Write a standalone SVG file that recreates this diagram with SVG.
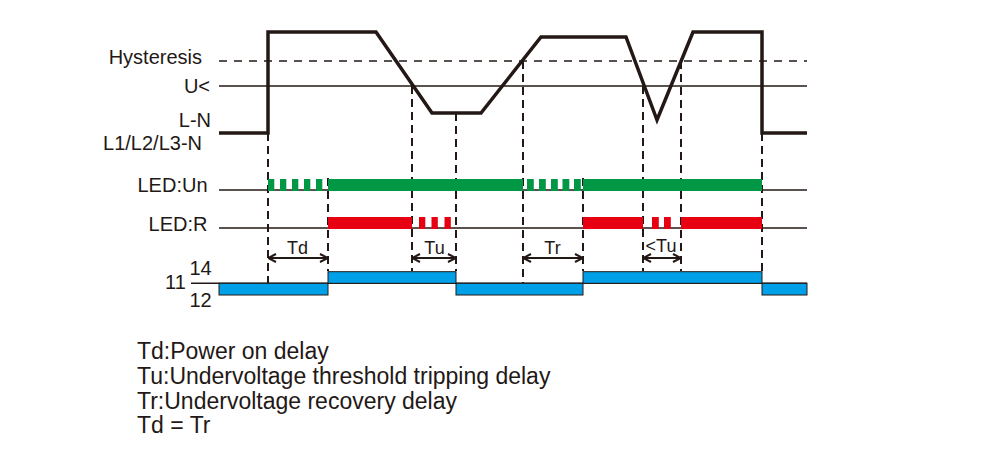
<svg xmlns="http://www.w3.org/2000/svg" width="1000" height="456" viewBox="0 0 1000 456">
<defs>
<style>
.t{font-family:"Liberation Sans",Arial,sans-serif;fill:#231815}
.lab{font-size:20px;text-anchor:end}
.num{font-size:20px}
.tm{font-size:18px;text-anchor:middle}
.leg{font-size:23px}
.ref{stroke:#231815;stroke-width:1.4;fill:none}
.hys{stroke:#231815;stroke-width:1.6;stroke-dasharray:8 7;fill:none}
.vd{stroke:#231815;stroke-width:2;stroke-dasharray:8 5;fill:none}
.wave{stroke:#231815;stroke-width:3.5;fill:none;stroke-linejoin:miter}
.g{fill:#009844}
.r{fill:#e60012}
.b{fill:#00a0e9;stroke:#231815;stroke-width:1}
.arr{stroke:#231815;stroke-width:1.8;fill:none;marker-start:url(#ah);marker-end:url(#ah)}
</style>
<marker id="ah" viewBox="0 0 10 10" refX="9.5" refY="5" markerWidth="10" markerHeight="10" markerUnits="userSpaceOnUse" orient="auto-start-reverse">
<path d="M1.5,1 L9.5,5 L1.5,9" fill="none" stroke="#231815" stroke-width="2"/>
</marker>
</defs>
<rect width="1000" height="456" fill="#ffffff"/>

<g id="labels">
<text class="t lab" x="202" y="63.5">Hysteresis</text>
<text class="t lab" x="210" y="92.5">U&lt;</text>
<text class="t lab" x="211" y="127">L-N</text>
<text class="t lab" x="202" y="149.5">L1/L2/L3-N</text>
<text class="t lab" x="207.5" y="191.5">LED:Un</text>
<text class="t lab" x="207.5" y="231">LED:R</text>
<text class="t num" x="165" y="289">11</text>
<text class="t num" x="189.5" y="275">14</text>
<text class="t num" x="189.5" y="306.5">12</text>
</g>

<g id="voltage">
<line class="hys" x1="219" y1="61" x2="807" y2="61"/>
<line class="ref" x1="219" y1="86" x2="807" y2="86"/>
<path class="wave" d="M219,133 H268 V32 H376 L432,113 H481 L541,37 H626 L657,120 L693,32 H762 V133 H807"/>
</g>

<g id="connectors">
<line class="vd" x1="268" y1="133" x2="268" y2="283"/>
<line class="vd" x1="328" y1="178" x2="328" y2="271"/>
<line class="vd" x1="412" y1="86" x2="412" y2="271"/>
<line class="vd" x1="456" y1="113" x2="456" y2="271"/>
<line class="vd" x1="523" y1="61" x2="523" y2="283"/>
<line class="vd" x1="583" y1="178" x2="583" y2="271"/>
<line class="vd" x1="643" y1="86" x2="643" y2="271"/>
<line class="vd" x1="681" y1="61" x2="681" y2="271"/>
<line class="vd" x1="762" y1="133" x2="762" y2="271"/>
</g>

<g id="led-un">
<line class="ref" x1="219" y1="190" x2="807" y2="190"/>
<rect class="g" x="268" y="179" width="6.3" height="12"/>
<rect class="g" x="280" y="179" width="6.3" height="12"/>
<rect class="g" x="292" y="179" width="6.3" height="12"/>
<rect class="g" x="304" y="179" width="6.3" height="12"/>
<rect class="g" x="316" y="179" width="6.3" height="12"/>
<rect class="g" x="328" y="179" width="195" height="12"/>
<rect class="g" x="527" y="179" width="6.8" height="12"/>
<rect class="g" x="539" y="179" width="6.8" height="12"/>
<rect class="g" x="551" y="179" width="6.8" height="12"/>
<rect class="g" x="562.5" y="179" width="6.8" height="12"/>
<rect class="g" x="574" y="179" width="6.8" height="12"/>
<rect class="g" x="583" y="179" width="179" height="12"/>
</g>

<g id="led-r">
<line class="ref" x1="219" y1="228" x2="807" y2="228"/>
<rect class="r" x="328" y="217" width="84" height="12"/>
<rect class="r" x="419" y="217" width="6.3" height="12"/>
<rect class="r" x="431.5" y="217" width="6.3" height="12"/>
<rect class="r" x="444.5" y="217" width="6.3" height="12"/>
<rect class="r" x="583" y="217" width="60" height="12"/>
<rect class="r" x="652" y="217" width="6.8" height="12"/>
<rect class="r" x="664" y="217" width="6.8" height="12"/>
<rect class="r" x="681" y="217" width="81" height="12"/>
</g>

<g id="timing">
<line class="arr" x1="268" y1="258" x2="328" y2="258"/>
<line class="arr" x1="412" y1="258" x2="456" y2="258"/>
<line class="arr" x1="523" y1="258" x2="583" y2="258"/>
<line class="arr" x1="643" y1="258" x2="681" y2="258"/>
<text class="t tm" x="297.5" y="254">Td</text>
<text class="t tm" x="434.5" y="254">Tu</text>
<text class="t tm" x="552.5" y="253.5">Tr</text>
<text class="t tm" x="661" y="252">&lt;Tu</text>
</g>

<g id="relay">
<line class="ref" x1="191" y1="283.3" x2="807" y2="283.3"/>
<rect class="b" x="219" y="283.3" width="109" height="11.7"/>
<rect class="b" x="328" y="271.7" width="128" height="11.6"/>
<rect class="b" x="456" y="283.3" width="127" height="11.7"/>
<rect class="b" x="583" y="271.7" width="179" height="11.6"/>
<rect class="b" x="762" y="283.3" width="45" height="11.7"/>
</g>

<g id="legend">
<text class="t leg" x="137" y="359">Td:Power on delay</text>
<text class="t leg" x="137" y="384">Tu:Undervoltage threshold tripping delay</text>
<text class="t leg" x="137" y="408.5">Tr:Undervoltage recovery delay</text>
<text class="t leg" x="137" y="433">Td = Tr</text>
</g>
</svg>
